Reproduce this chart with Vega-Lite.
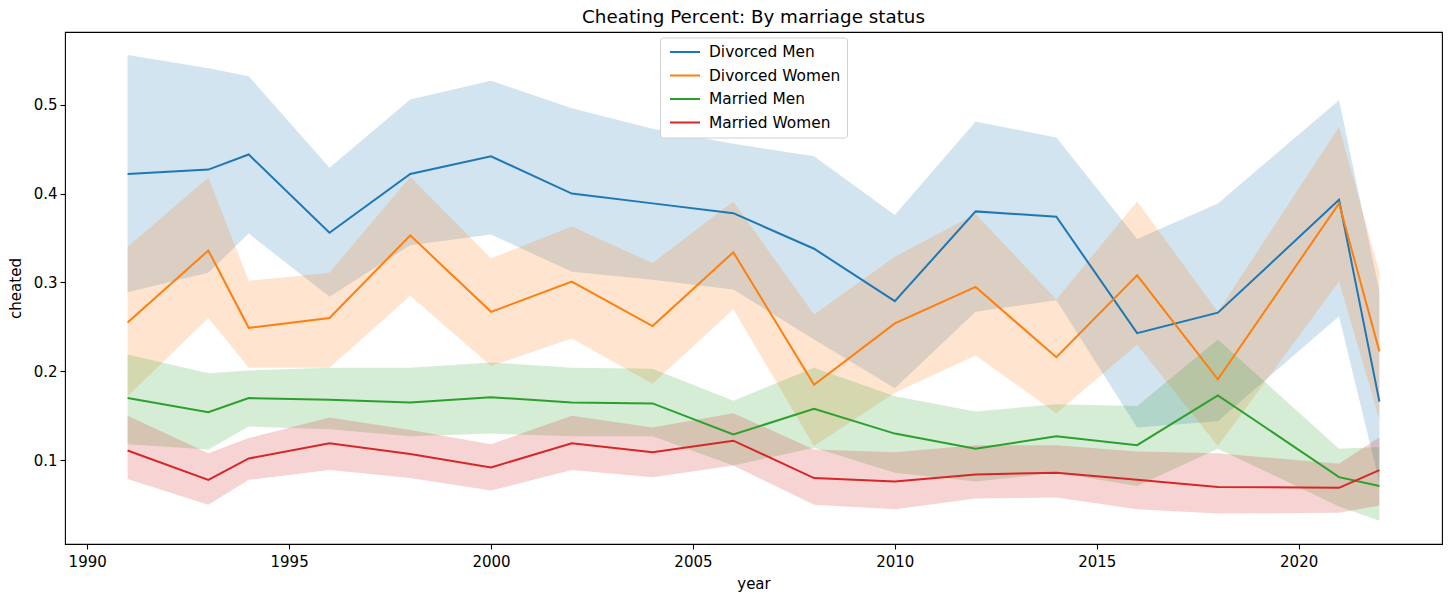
{
  "$schema": "https://vega.github.io/schema/vega-lite/v6.json",
  "width": 1377,
  "height": 512,
  "autosize": {"type": "none"},
  "padding": {"left": 65, "top": 32, "right": 14, "bottom": 51},
  "background": "white",
  "title": {"text": "Cheating Percent: By marriage status", "fontSize": 18.3, "fontWeight": "normal", "font": "DejaVu Sans", "color": "black", "offset": 5, "anchor": "middle"},
  "config": {
    "font": "DejaVu Sans",
    "view": {"stroke": "black", "strokeWidth": 1.1},
    "axis": {"grid": false, "domain": false, "tickColor": "black", "tickSize": 5, "tickWidth": 1.1, "labelColor": "black", "labelFontSize": 15, "titleFontSize": 15, "titleFontWeight": "normal", "titleColor": "black", "labelPadding": 3}
  },
  "data": {"values": [
    {"year": 1991, "group": "Divorced Men", "mean": 0.422, "lo": 0.289, "hi": 0.556},
    {"year": 1993, "group": "Divorced Men", "mean": 0.427, "lo": 0.311, "hi": 0.541},
    {"year": 1994, "group": "Divorced Men", "mean": 0.444, "lo": 0.355, "hi": 0.532},
    {"year": 1996, "group": "Divorced Men", "mean": 0.356, "lo": 0.284, "hi": 0.429},
    {"year": 1998, "group": "Divorced Men", "mean": 0.422, "lo": 0.342, "hi": 0.506},
    {"year": 2000, "group": "Divorced Men", "mean": 0.442, "lo": 0.354, "hi": 0.527},
    {"year": 2002, "group": "Divorced Men", "mean": 0.400, "lo": 0.312, "hi": 0.496},
    {"year": 2004, "group": "Divorced Men", "mean": 0.389, "lo": 0.303, "hi": 0.473},
    {"year": 2006, "group": "Divorced Men", "mean": 0.378, "lo": 0.292, "hi": 0.456},
    {"year": 2008, "group": "Divorced Men", "mean": 0.338, "lo": 0.236, "hi": 0.442},
    {"year": 2010, "group": "Divorced Men", "mean": 0.279, "lo": 0.181, "hi": 0.376},
    {"year": 2012, "group": "Divorced Men", "mean": 0.380, "lo": 0.267, "hi": 0.481},
    {"year": 2014, "group": "Divorced Men", "mean": 0.374, "lo": 0.280, "hi": 0.463},
    {"year": 2016, "group": "Divorced Men", "mean": 0.243, "lo": 0.137, "hi": 0.349},
    {"year": 2018, "group": "Divorced Men", "mean": 0.266, "lo": 0.144, "hi": 0.389},
    {"year": 2021, "group": "Divorced Men", "mean": 0.393, "lo": 0.262, "hi": 0.505},
    {"year": 2022, "group": "Divorced Men", "mean": 0.166, "lo": 0.075, "hi": 0.290},
    {"year": 1991, "group": "Divorced Women", "mean": 0.255, "lo": 0.172, "hi": 0.340},
    {"year": 1993, "group": "Divorced Women", "mean": 0.336, "lo": 0.260, "hi": 0.418},
    {"year": 1994, "group": "Divorced Women", "mean": 0.249, "lo": 0.204, "hi": 0.302},
    {"year": 1996, "group": "Divorced Women", "mean": 0.260, "lo": 0.204, "hi": 0.311},
    {"year": 1998, "group": "Divorced Women", "mean": 0.353, "lo": 0.285, "hi": 0.419},
    {"year": 2000, "group": "Divorced Women", "mean": 0.267, "lo": 0.206, "hi": 0.327},
    {"year": 2002, "group": "Divorced Women", "mean": 0.301, "lo": 0.237, "hi": 0.363},
    {"year": 2004, "group": "Divorced Women", "mean": 0.251, "lo": 0.186, "hi": 0.322},
    {"year": 2006, "group": "Divorced Women", "mean": 0.334, "lo": 0.270, "hi": 0.391},
    {"year": 2008, "group": "Divorced Women", "mean": 0.185, "lo": 0.116, "hi": 0.264},
    {"year": 2010, "group": "Divorced Women", "mean": 0.254, "lo": 0.176, "hi": 0.329},
    {"year": 2012, "group": "Divorced Women", "mean": 0.295, "lo": 0.218, "hi": 0.377},
    {"year": 2014, "group": "Divorced Women", "mean": 0.216, "lo": 0.153, "hi": 0.281},
    {"year": 2016, "group": "Divorced Women", "mean": 0.308, "lo": 0.230, "hi": 0.391},
    {"year": 2018, "group": "Divorced Women", "mean": 0.191, "lo": 0.116, "hi": 0.267},
    {"year": 2021, "group": "Divorced Women", "mean": 0.389, "lo": 0.301, "hi": 0.475},
    {"year": 2022, "group": "Divorced Women", "mean": 0.2225, "lo": 0.146, "hi": 0.312},
    {"year": 1991, "group": "Married Men", "mean": 0.170, "lo": 0.118, "hi": 0.219},
    {"year": 1993, "group": "Married Men", "mean": 0.154, "lo": 0.112, "hi": 0.198},
    {"year": 1994, "group": "Married Men", "mean": 0.170, "lo": 0.138, "hi": 0.201},
    {"year": 1996, "group": "Married Men", "mean": 0.168, "lo": 0.135, "hi": 0.204},
    {"year": 1998, "group": "Married Men", "mean": 0.165, "lo": 0.127, "hi": 0.204},
    {"year": 2000, "group": "Married Men", "mean": 0.171, "lo": 0.130, "hi": 0.210},
    {"year": 2002, "group": "Married Men", "mean": 0.165, "lo": 0.127, "hi": 0.204},
    {"year": 2004, "group": "Married Men", "mean": 0.164, "lo": 0.127, "hi": 0.203},
    {"year": 2006, "group": "Married Men", "mean": 0.129, "lo": 0.094, "hi": 0.167},
    {"year": 2008, "group": "Married Men", "mean": 0.158, "lo": 0.114, "hi": 0.204},
    {"year": 2010, "group": "Married Men", "mean": 0.130, "lo": 0.086, "hi": 0.172},
    {"year": 2012, "group": "Married Men", "mean": 0.113, "lo": 0.076, "hi": 0.155},
    {"year": 2014, "group": "Married Men", "mean": 0.127, "lo": 0.086, "hi": 0.163},
    {"year": 2016, "group": "Married Men", "mean": 0.117, "lo": 0.071, "hi": 0.161},
    {"year": 2018, "group": "Married Men", "mean": 0.173, "lo": 0.113, "hi": 0.236},
    {"year": 2021, "group": "Married Men", "mean": 0.081, "lo": 0.048, "hi": 0.113},
    {"year": 2022, "group": "Married Men", "mean": 0.071, "lo": 0.032, "hi": 0.115},
    {"year": 1991, "group": "Married Women", "mean": 0.111, "lo": 0.079, "hi": 0.150},
    {"year": 1993, "group": "Married Women", "mean": 0.078, "lo": 0.050, "hi": 0.108},
    {"year": 1994, "group": "Married Women", "mean": 0.102, "lo": 0.078, "hi": 0.125},
    {"year": 1996, "group": "Married Women", "mean": 0.119, "lo": 0.089, "hi": 0.148},
    {"year": 1998, "group": "Married Women", "mean": 0.107, "lo": 0.080, "hi": 0.134},
    {"year": 2000, "group": "Married Women", "mean": 0.092, "lo": 0.066, "hi": 0.118},
    {"year": 2002, "group": "Married Women", "mean": 0.119, "lo": 0.089, "hi": 0.150},
    {"year": 2004, "group": "Married Women", "mean": 0.109, "lo": 0.081, "hi": 0.137},
    {"year": 2006, "group": "Married Women", "mean": 0.122, "lo": 0.094, "hi": 0.153},
    {"year": 2008, "group": "Married Women", "mean": 0.080, "lo": 0.050, "hi": 0.112},
    {"year": 2010, "group": "Married Women", "mean": 0.076, "lo": 0.045, "hi": 0.109},
    {"year": 2012, "group": "Married Women", "mean": 0.084, "lo": 0.057, "hi": 0.117},
    {"year": 2014, "group": "Married Women", "mean": 0.086, "lo": 0.058, "hi": 0.117},
    {"year": 2016, "group": "Married Women", "mean": 0.078, "lo": 0.045, "hi": 0.110},
    {"year": 2018, "group": "Married Women", "mean": 0.070, "lo": 0.040, "hi": 0.108},
    {"year": 2021, "group": "Married Women", "mean": 0.069, "lo": 0.041, "hi": 0.096},
    {"year": 2022, "group": "Married Women", "mean": 0.089, "lo": 0.049, "hi": 0.126}
  ]},
  "encoding": {
    "x": {"field": "year", "type": "quantitative", "title": "year",
      "scale": {"domain": [1989.45, 2023.55], "nice": false, "zero": false},
      "axis": {"values": [1990, 1995, 2000, 2005, 2010, 2015, 2020], "format": "d", "labelPadding": 5, "titlePadding": 7}},
    "color": {"field": "group", "type": "nominal",
      "scale": {"domain": ["Divorced Men", "Divorced Women", "Married Men", "Married Women"], "range": ["#1f77b4", "#ff7f0e", "#2ca02c", "#d62728"]},
      "legend": {"title": null, "orient": "none", "legendX": 595, "legendY": 5.5, "symbolType": "M-2,0H2", "symbolSize": 225, "symbolOffset": 10.5, "symbolStrokeWidth": 2, "symbolOpacity": 1, "labelFontSize": 15.4, "labelColor": "black", "labelOffset": 15.5, "padding": 6, "rowPadding": 6.5, "strokeColor": "#d0d0d0", "fillColor": "#ffffff", "cornerRadius": 3}}
  },
  "layer": [
    {
      "mark": {"type": "area", "opacity": 0.2},
      "encoding": {
        "y": {"field": "lo", "type": "quantitative", "title": "cheated",
          "scale": {"domain": [0.0058, 0.5818], "nice": false, "zero": false},
          "axis": {"values": [0.1, 0.2, 0.3, 0.4, 0.5], "format": ".1f", "titlePadding": 10}},
        "y2": {"field": "hi"}
      }
    },
    {
      "mark": {"type": "line", "strokeWidth": 2},
      "encoding": {
        "y": {"field": "mean", "type": "quantitative"}
      }
    }
  ]
}
